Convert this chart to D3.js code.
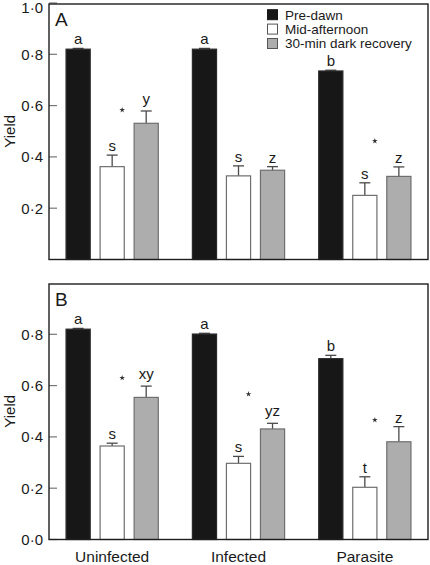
<!DOCTYPE html>
<html><head><meta charset="utf-8">
<script src="https://cdn.jsdelivr.net/npm/d3@7"></script>
<style>body{margin:0;background:#fff}svg{display:block}text{font-family:"Liberation Sans",Arial,sans-serif;fill:#1a1a1a}</style>
</head><body><svg id="c" width="430" height="565"></svg>
<script>
const categories = ["Uninfected","Infected","Parasite"];
const series = ["Pre-dawn","Mid-afternoon","30-min dark recovery"];
const panelNames = ["A","B"];
// Panel A
const aPreDawn = [0.820, 0.820, 0.735];
const aMidAfternoon = [0.362, 0.326, 0.250];
const aRecovery = [0.531, 0.348, 0.324];
const aPreDawnErr = [0.003, 0.003, 0.003];
const aMidAfternoonErr = [0.045, 0.039, 0.049];
const aRecoveryErr = [0.048, 0.014, 0.037];
const aPreDawnLetters = ["a","a","b"];
const aMidAfternoonLetters = ["s","s","s"];
const aRecoveryLetters = ["y","z","z"];
const aStars = [0.583, null, 0.462];
// Panel B
const bPreDawn = [0.820, 0.801, 0.705];
const bMidAfternoon = [0.3645, 0.297, 0.2035];
const bRecovery = [0.554, 0.431, 0.381];
const bPreDawnErr = [0.003, 0.003, 0.013];
const bMidAfternoonErr = [0.011, 0.027, 0.041];
const bRecoveryErr = [0.044, 0.022, 0.059];
const bPreDawnLetters = ["a","a","b"];
const bMidAfternoonLetters = ["s","s","t"];
const bRecoveryLetters = ["xy","yz","z"];
const bStars = [0.630, 0.567, 0.466];
const aTicks = [0.2, 0.4, 0.6, 0.8, 1.0];
const bTicks = [0.0, 0.2, 0.4, 0.6, 0.8];

const fills = {"Pre-dawn":"#171717","Mid-afternoon":"#ffffff","30-min dark recovery":"#adadad"};
const strokes = {"Pre-dawn":"#2a2a2a","Mid-afternoon":"#6e6e6e","30-min dark recovery":"#6e6e6e"};

const panels = [
  {name:"A", vals:[aPreDawn,aMidAfternoon,aRecovery], errs:[aPreDawnErr,aMidAfternoonErr,aRecoveryErr],
   letters:[aPreDawnLetters,aMidAfternoonLetters,aRecoveryLetters], stars:aStars, ticks:aTicks, top:3, bottom:259.5, frameTop:4},
  {name:"B", vals:[bPreDawn,bMidAfternoon,bRecovery], errs:[bPreDawnErr,bMidAfternoonErr,bRecoveryErr],
   letters:[bPreDawnLetters,bMidAfternoonLetters,bRecoveryLetters], stars:bStars, ticks:bTicks, top:283, bottom:539.5, frameTop:284}
];

const svg = d3.select("#c");
const L = 49, R = 428;
const x0 = d3.scaleBand().domain(categories).range([L, R]).paddingInner(0.27).paddingOuter(0.135);
const x1 = d3.scaleBand().domain(series).range([0, x0.bandwidth()]).paddingInner(0.29);
const fmt = v => d3.format(".1f")(v).replace(".", "\u00b7");

panels.forEach((p, pi) => {
  const y = d3.scaleLinear().domain([0, 1]).range([p.bottom, p.top]);
  const g = svg.append("g");
  // bars
  series.forEach((s, si) => {
    categories.forEach((c, ci) => {
      const v = p.vals[si][ci], e = p.errs[si][ci];
      const bx = x0(c) + x1(s), bw = x1.bandwidth(), cx = bx + bw / 2;
      g.append("line").attr("x1", cx).attr("x2", cx).attr("y1", y(v)).attr("y2", y(v + e))
        .attr("stroke", "#4a4a4a").attr("stroke-width", 1.3);
      g.append("line").attr("x1", cx - 5.5).attr("x2", cx + 5.5).attr("y1", y(v + e)).attr("y2", y(v + e))
        .attr("stroke", "#4a4a4a").attr("stroke-width", 1.3);
      g.append("rect").attr("x", bx).attr("y", y(v)).attr("width", bw).attr("height", y(0) - y(v))
        .attr("fill", fills[s]).attr("stroke", strokes[s]).attr("stroke-width", 1.2);
      const lab = p.letters[si][ci];
      const desc = /[ypgq]/.test(lab) ? 3 : 0;
      g.append("text").attr("x", cx).attr("y", y(v + e) - 4 - desc).attr("text-anchor", "middle")
        .style("font-size", "15px").text(lab);
    });
  });
  // stars
  categories.forEach((c, ci) => {
    const sv = p.stars[ci];
    if (sv == null) return;
    const gapC = x0(c) + (x1(series[1]) + x1.bandwidth() + x1(series[2])) / 2;
    g.append("path").attr("d", d3.symbol(d3.symbolStar, 10)())
      .attr("transform", `translate(${gapC - 7},${y(sv)})`).attr("fill", "#333");
  });
  // tick labels
  const ax = d3.axisLeft(y).tickValues(p.ticks).tickSize(0).tickPadding(6).tickFormat(fmt);
  const axg = g.append("g").attr("transform", `translate(${L},0)`).call(ax);
  axg.select(".domain").remove();
  axg.selectAll("text").style("font-size", "15px").attr("fill", "#1a1a1a").attr("x", -6)
    .attr("dy", d => (y(d) < 10 ? "0.62em" : "0.32em"));
  // inward ticks
  p.ticks.forEach(t => {
    g.append("line").attr("x1", L).attr("x2", L + 8).attr("y1", y(t)).attr("y2", y(t))
      .attr("stroke", "#777").attr("stroke-width", 1.2);
  });
  // frame
  g.append("rect").attr("x", L).attr("y", p.frameTop).attr("width", R - L)
    .attr("height", p.bottom - p.frameTop).attr("fill", "none").attr("stroke", "#1e1e1e").attr("stroke-width", 1.4);
  // panel letter
  g.append("text").attr("x", 55).attr("y", p.frameTop + 22).style("font-size", "19px").text(p.name);
  // y label
  g.append("text").attr("transform", `translate(15,${(p.top + p.bottom) / 2}) rotate(-90)`)
    .attr("text-anchor", "middle").style("font-size", "15px").text("Yield");
});

// x labels
categories.forEach(c => {
  svg.append("text").attr("x", x0(c) + x0.bandwidth() / 2).attr("y", 562).attr("text-anchor", "middle")
    .style("font-size", "15.5px").text(c);
});

// legend
const lg = svg.append("g");
series.forEach((s, i) => {
  const ly = 14.7 + i * 14.4;
  lg.append("rect").attr("x", 267.5).attr("y", ly - 5).attr("width", 10).attr("height", 10)
    .attr("fill", fills[s]).attr("stroke", i === 0 ? "#171717" : "#555").attr("stroke-width", 1);
  lg.append("text").attr("x", 285).attr("y", ly).attr("dy", "0.36em").style("font-size", "13.5px").text(s);
});
</script></body></html>
